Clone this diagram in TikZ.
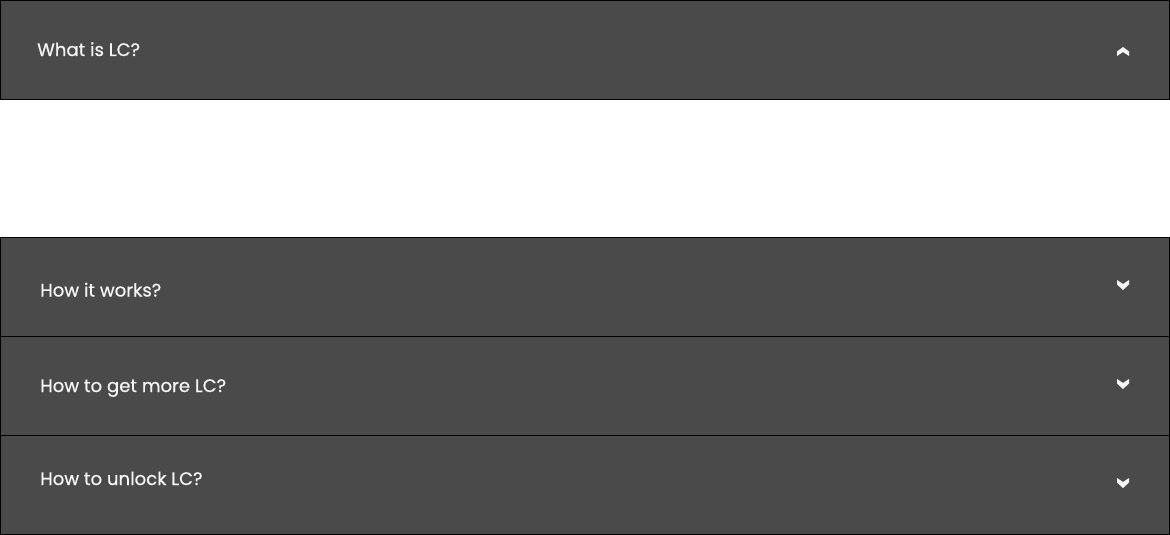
\documentclass[tikz,border=0pt]{standalone}
\usepackage{fontspec}
\setmainfont{Poppins}
\newfontfamily\titlefont{Poppins}[FakeBold=0.6]
\usetikzlibrary{positioning, calc}
\definecolor{rowgray}{HTML}{4A4A4A}
\colorlet{titlewhite}{white!96!black}

\begin{document}
\begin{tikzpicture}[x=1pt, y=-1pt,
    faqrow/.style={rectangle,
      draw=black,
      fill=rowgray,
      line width=1pt,
      inner sep=0pt,
      outer sep=0pt,
      minimum width=1169pt,
      minimum height=99pt},
    faqtitle/.style={text=titlewhite,
      inner sep=0pt,
      anchor=base west,
      font=\titlefont\fontsize{18.1}{22}\selectfont},
    chevron/.style={fill=titlewhite}]
  \useasboundingbox (0,0) rectangle (1170,535);

  % ROWS

  \node[faqrow, anchor=north west] (faqwhat) at (0.5,0.5) {};

  \node[faqrow,
    below=138pt of faqwhat.south west,
    anchor=north west] (faqhow) {};

  \node[faqrow,
    below=0pt of faqhow.south west,
    anchor=north west] (faqmore) {};

  \node[faqrow,
    below=0pt of faqmore.south west,
    anchor=north west] (faqunlock) {};

  % TITLES

  \node[faqtitle] (whattitle) at ($(faqwhat.north west)+(36.5,55.5)$) {What is LC?};
  \node[faqtitle] (howtitle) at ($(faqhow.north west)+(39.5,59)$) {How it works?};
  \node[faqtitle] (moretitle) at ($(faqmore.north west)+(39.5,55.5)$) {How to get more LC?};
  \node[faqtitle] (unlocktitle) at ($(faqunlock.north west)+(39.5,49.5)$) {How to unlock LC?};

  % CHEVRONS

  \fill[chevron, shift={($(faqwhat.north east)+(-46.5,55.5)$)}]
    (-6,0) -- (0,-4) -- (6,0) -- (6,-4.5) -- (0,-9) -- (-6,-4.5) -- cycle;
  \fill[chevron, shift={($(faqhow.north east)+(-46.5,42.5)$)}]
    (-6,0) -- (0,4) -- (6,0) -- (6,4.5) -- (0,10) -- (-6,4.5) -- cycle;
  \fill[chevron, shift={($(faqmore.north east)+(-46.5,42.5)$)}]
    (-6,0) -- (0,4) -- (6,0) -- (6,4.5) -- (0,10) -- (-6,4.5) -- cycle;
  \fill[chevron, shift={($(faqunlock.north east)+(-46.5,42.5)$)}]
    (-6,0) -- (0,4) -- (6,0) -- (6,4.5) -- (0,10) -- (-6,4.5) -- cycle;

\end{tikzpicture}
\end{document}
